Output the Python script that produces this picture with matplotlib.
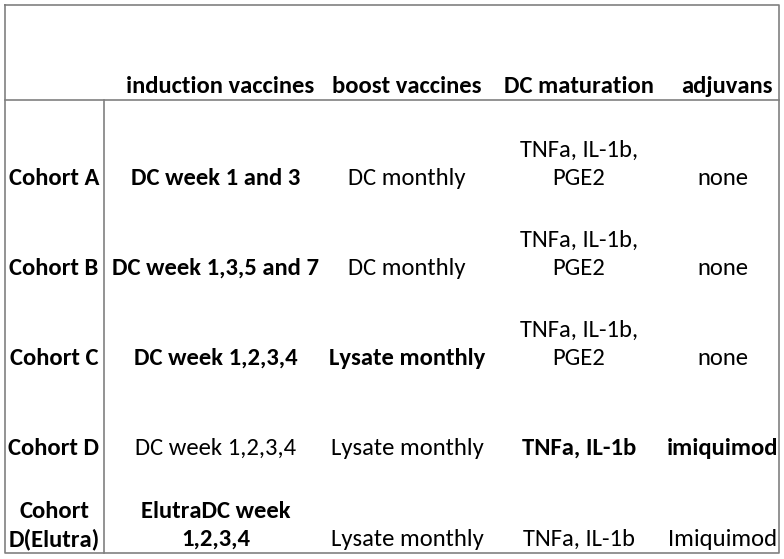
import matplotlib
matplotlib.use("Agg")
import matplotlib.pyplot as plt

headers = ["induction vaccines", "boost vaccines", "DC maturation", "adjuvans"]
row_labels = ["Cohort A", "Cohort B", "Cohort C", "Cohort D", "Cohort\nD(Elutra)"]
induction = ["DC week 1 and 3", "DC week 1,3,5 and 7", "DC week 1,2,3,4", "DC week 1,2,3,4", "ElutraDC week\n1,2,3,4"]
boost = ["DC monthly", "DC monthly", "Lysate monthly", "Lysate monthly", "Lysate monthly"]
maturation = ["TNFa, IL-1b,\nPGE2", "TNFa, IL-1b,\nPGE2", "TNFa, IL-1b,\nPGE2", "TNFa, IL-1b", "TNFa, IL-1b"]
adjuvans = ["none", "none", "none", "imiquimod", "Imiquimod"]
bold = [
    [True, False, False, False],
    [True, False, False, False],
    [True, True, False, False],
    [False, False, True, True],
    [True, False, False, False],
]

W, H = 784, 559
fig = plt.figure(figsize=(W / 100, H / 100), dpi=100)
ax = fig.add_axes([0, 0, 1, 1])
ax.set_xlim(0, W)
ax.set_ylim(H, 0)
ax.axis("off")

FONT = ["Carlito", "DejaVu Sans"]
FS = 17.7
lc = "#808080"
# borders
ax.plot([5, 779, 779, 5, 5], [5, 5, 553, 553, 5], color=lc, lw=1.2)
ax.plot([5, 779], [100, 100], color=lc, lw=1.2)
ax.plot([104, 104], [100, 553], color=lc, lw=1.2)

header_x = [220, 407, 579, 727]
col_x = [216, 407, 579, 723]
label_x = 54
row_base = [185, 275, 365, 455, 546]
line_h = 28

for cx, h in zip(header_x, headers):
    ax.text(cx, 93, h, ha="center", va="baseline", fontsize=FS, fontweight="bold",
            family=FONT, color="black")

for i, lab in enumerate(row_labels):
    y = row_base[i]
    cols = [induction[i], boost[i], maturation[i], adjuvans[i]]
    lines = lab.split("\n")
    for k, ln in enumerate(lines):
        ax.text(label_x, y - (len(lines) - 1 - k) * line_h, ln, ha="center", va="baseline",
                fontsize=FS, fontweight="bold", family=FONT, color="black")
    for j, (cx, txt) in enumerate(zip(col_x, cols)):
        lines = txt.split("\n")
        for k, ln in enumerate(lines):
            ax.text(cx, y - (len(lines) - 1 - k) * line_h, ln, ha="center", va="baseline",
                    fontsize=FS, fontweight="bold" if bold[i][j] else "normal",
                    family=FONT, color="black")

fig.savefig("out.png", dpi=100)
